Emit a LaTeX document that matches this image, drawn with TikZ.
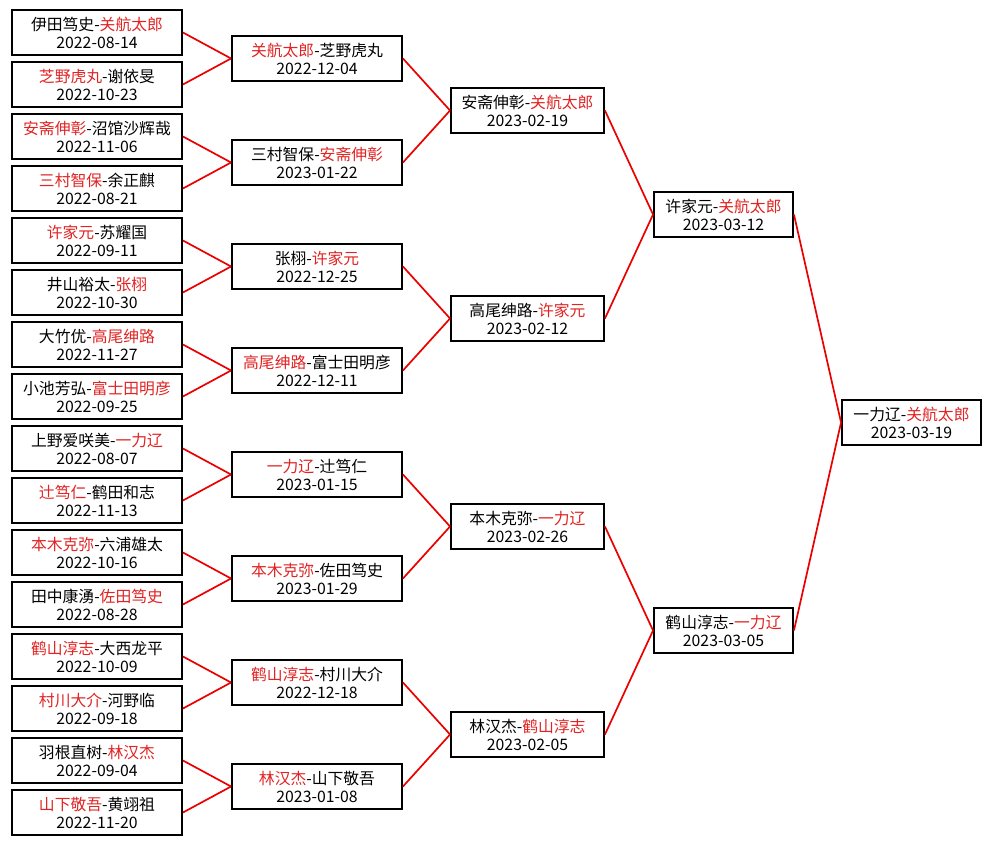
\documentclass[tikz,border=0pt]{standalone}
\usepackage{fontspec}
\setmainfont{Noto Sans CJK SC}
\definecolor{WinRed}{RGB}{225, 35, 35}
\definecolor{LinkRed}{RGB}{235, 0, 0}
\newcommand{\win}[1]{\textcolor{WinRed}{#1}}

\begin{document}
\begin{tikzpicture}[
          x=1pt, y=-1pt,
          match/.style={draw=black, fill=white, line width=1.9pt,
                        inner sep=0pt, minimum height=45pt, align=center,
                        font=\fontsize{15.8}{18}\selectfont},
          wide/.style={match, minimum width=170pt},
          mid/.style={match, minimum width=153pt},
          narrow/.style={match, minimum width=139pt},
          advance/.style={LinkRed, line width=1.7pt}
        ]
        \useasboundingbox (0,0) rectangle (990,845);
        % first round
        \foreach \i/\pair/\day in {
            1/伊田笃史-\win{关航太郎}/2022-08-14,
            2/\win{芝野虎丸}-谢依旻/2022-10-23,
            3/\win{安斋伸彰}-沼馆沙辉哉/2022-11-06,
            4/\win{三村智保}-余正麒/2022-08-21,
            5/\win{许家元}-苏耀国/2022-09-11,
            6/井山裕太-\win{张栩}/2022-10-30,
            7/大竹优-\win{高尾绅路}/2022-11-27,
            8/小池芳弘-\win{富士田明彦}/2022-09-25,
            9/上野爱咲美-\win{一力辽}/2022-08-07,
            10/\win{辻笃仁}-鹤田和志/2022-11-13,
            11/\win{本木克弥}-六浦雄太/2022-10-16,
            12/田中康湧-\win{佐田笃史}/2022-08-28,
            13/\win{鹤山淳志}-大西龙平/2022-10-09,
            14/\win{村川大介}-河野临/2022-09-18,
            15/羽根直树-\win{林汉杰}/2022-09-04,
            16/\win{山下敬吾}-黄翊祖/2022-11-20}
          \node[wide] (a\i) at (97, {32.5+52*(\i-1)}) {\pair\\\day};
        % second round
        \foreach \i/\pair/\day in {
            1/\win{关航太郎}-芝野虎丸/2022-12-04,
            2/三村智保-\win{安斋伸彰}/2023-01-22,
            3/张栩-\win{许家元}/2022-12-25,
            4/\win{高尾绅路}-富士田明彦/2022-12-11,
            5/\win{一力辽}-辻笃仁/2023-01-15,
            6/\win{本木克弥}-佐田笃史/2023-01-29,
            7/\win{鹤山淳志}-村川大介/2022-12-18,
            8/\win{林汉杰}-山下敬吾/2023-01-08}
          \node[wide] (b\i) at (317, {58.5+104*(\i-1)}) {\pair\\\day};
        % quarter finals
        \foreach \i/\pair/\day in {
            1/安斋伸彰-\win{关航太郎}/2023-02-19,
            2/高尾绅路-\win{许家元}/2023-02-12,
            3/本木克弥-\win{一力辽}/2023-02-26,
            4/林汉杰-\win{鹤山淳志}/2023-02-05}
          \node[mid] (c\i) at (527.5, {110.5+208*(\i-1)}) {\pair\\\day};
        % semi finals and final
        \node[narrow] (d1) at (723.5, 214.5) {许家元-\win{关航太郎}\\2023-03-12};
        \node[narrow] (d2) at (723.5, 630.5) {鹤山淳志-\win{一力辽}\\2023-03-05};
        \node[narrow] (e) at (911.5, 422.5) {一力辽-\win{关航太郎}\\2023-03-19};
        \foreach \x/\y in {a1/b1, a2/b1, a3/b2, a4/b2, a5/b3, a6/b3, a7/b4, a8/b4,
                           a9/b5, a10/b5, a11/b6, a12/b6, a13/b7, a14/b7, a15/b8, a16/b8,
                           b1/c1, b2/c1, b3/c2, b4/c2, b5/c3, b6/c3, b7/c4, b8/c4,
                           c1/d1, c2/d1, c3/d2, c4/d2, d1/e, d2/e}
          \draw[advance] (\x.east) -- (\y.west);
      \end{tikzpicture}
\end{document}
